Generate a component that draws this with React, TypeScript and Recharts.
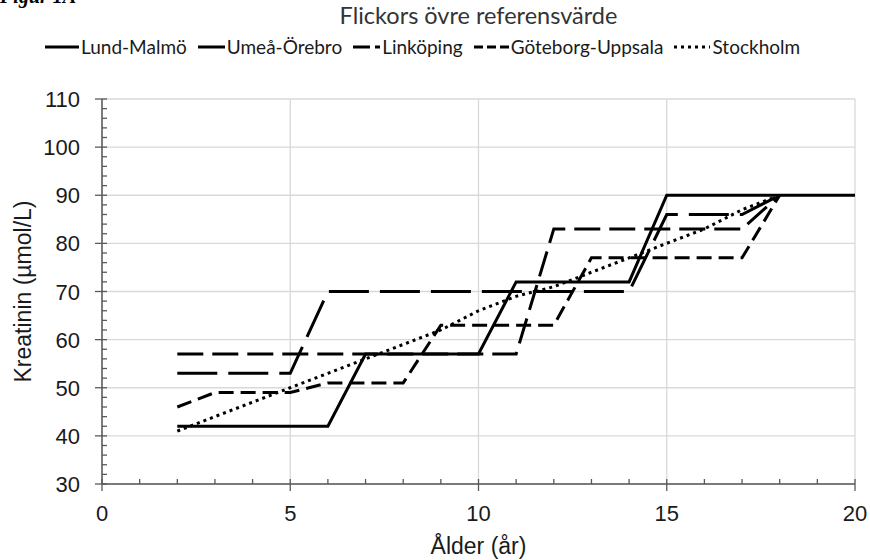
import React from "react";
import { LineChart, Line, XAxis, YAxis, CartesianGrid, Legend, Label } from "recharts";

// ålder (år) och kreatinin (µmol/L) per laboratorium
const lundMalmoAge = [2, 6, 7, 10, 11, 14, 15, 20];
const lundMalmoValue = [42, 42, 57, 57, 72, 72, 90, 90];

const umeaOrebroAge = [2, 5, 6, 14, 15, 17, 18];
const umeaOrebroValue = [53, 53, 70, 70, 86, 86, 90];

const linkopingAge = [2, 11, 12, 17, 18];
const linkopingValue = [57, 57, 83, 83, 90];

const goteborgUppsalaAge = [2, 3, 5, 6, 8, 9, 12, 13, 17, 18];
const goteborgUppsalaValue = [46, 49, 49, 51, 51, 63, 63, 77, 77, 90];

const stockholmAge = [2, 3, 4, 5, 6, 7, 8, 9, 10, 11, 12, 13, 14, 15, 16, 17, 18];
const stockholmValue = [41, 44, 47, 50, 53, 56, 59, 62, 66, 69, 71, 74, 77, 80, 83, 87, 90];

const xMajor = [0, 5, 10, 15, 20];
const xTicks = [0, 1, 2, 3, 4, 5, 6, 7, 8, 9, 10, 11, 12, 13, 14, 15, 16, 17, 18, 19, 20];
const yMajor = [30, 40, 50, 60, 70, 80, 90, 100, 110];
const yTicks = [30, 32, 34, 36, 38, 40, 42, 44, 46, 48, 50, 52, 54, 56, 58, 60, 62, 64, 66, 68, 70,
  72, 74, 76, 78, 80, 82, 84, 86, 88, 90, 92, 94, 96, 98, 100, 102, 104, 106, 108, 110];

const toPoints = (ages: number[], values: number[]) =>
  ages.map((age, i) => ({ age, value: values[i] }));

const series = [
  { name: "Lund-Malmö", data: toPoints(lundMalmoAge, lundMalmoValue), dash: undefined, legendDash: undefined, legendW: 34 },
  { name: "Umeå-Örebro", data: toPoints(umeaOrebroAge, umeaOrebroValue), dash: "40 11", legendDash: undefined, legendW: 27 },
  { name: "Linköping", data: toPoints(linkopingAge, linkopingValue), dash: "26 9", legendDash: "17 5", legendW: 27 },
  { name: "Göteborg-Uppsala", data: toPoints(goteborgUppsalaAge, goteborgUppsalaValue), dash: "15 7", legendDash: "9 4", legendW: 35 },
  { name: "Stockholm", data: toPoints(stockholmAge, stockholmValue), dash: "3 4", legendDash: "3 4", legendW: 36 },
];

const AXIS = "#595959";
const TEXT = "#1a1a1a";
const SANS = "'Liberation Sans', Arial, sans-serif";
const LEGEND_FONT = "Lato, 'Noto Sans', sans-serif";

const XTick = (props: any) => {
  const { x, y, payload } = props;
  const major = xMajor.includes(payload.value);
  return (
    <g>
      <line x1={x} x2={x} y1={y - 5} y2={major ? y + 7 : y} stroke={AXIS} strokeWidth={1.3} />
      {major && (
        <text x={x} y={y + 37} textAnchor="middle" fontSize={22} fill={TEXT} fontFamily={SANS}>
          {payload.value}
        </text>
      )}
    </g>
  );
};

const YTick = (props: any) => {
  const { x, y, payload } = props;
  const major = yMajor.includes(payload.value);
  return (
    <g>
      <line x1={major ? x - 7 : x} x2={x + 5} y1={y} y2={y} stroke={AXIS} strokeWidth={1.3} />
      {major && (
        <text x={x - 22} y={y + 8} textAnchor="end" fontSize={22} fill={TEXT} fontFamily={SANS}>
          {payload.value}
        </text>
      )}
    </g>
  );
};

const XLabel = (props: any) => {
  const { viewBox } = props;
  return (
    <text x={viewBox.x + viewBox.width / 2} y={viewBox.y + 70} textAnchor="middle" fontSize={23} fill={TEXT} fontFamily={SANS}>
      Ålder (år)
    </text>
  );
};

const YLabel = (props: any) => {
  const { viewBox } = props;
  const cx = viewBox.x - 19;
  const cy = viewBox.y + viewBox.height / 2;
  return (
    <text x={cx} y={cy} transform={`rotate(-90 ${cx} ${cy})`} textAnchor="middle" dominantBaseline="central" fontSize={23} fill={TEXT} fontFamily={SANS}>
      Kreatinin (µmol/L)
    </text>
  );
};

const LegendContent = () => (
  <div style={{ display: "flex", alignItems: "center", paddingLeft: 45, fontFamily: LEGEND_FONT, fontSize: 19, color: TEXT }}>
    {series.map((s) => (
      <div key={s.name} style={{ display: "flex", alignItems: "center", marginRight: 11 }}>
        <svg width={s.legendW} height={10} style={{ marginRight: 2 }}>
          <line x1={0} x2={s.legendW} y1={5} y2={5} stroke="#000" strokeWidth={3} strokeDasharray={s.legendDash} />
        </svg>
        <span>{s.name}</span>
      </div>
    ))}
  </div>
);

export default function App() {
  return (
    <div style={{ position: "absolute", left: 0, top: 0, width: 870, height: 560, overflow: "hidden", background: "#fff" }}>
      <div style={{ position: "absolute", left: 0, top: -14, fontFamily: "'Liberation Serif', serif", fontWeight: "bold", fontStyle: "italic", fontSize: 20, lineHeight: "20px" }}>
        Figur 1A
      </div>
      <div style={{ position: "absolute", left: 102, width: 753, top: 1, textAlign: "center", fontFamily: LEGEND_FONT, fontSize: 23.5, lineHeight: "28px", color: "#333" }}>
        Flickors övre referensvärde
      </div>
      <LineChart width={870} height={560} margin={{ top: 99, right: 15, bottom: 46, left: 42 }}>
        <CartesianGrid stroke="#d9d9d9" strokeWidth={1.3} horizontalValues={yMajor} verticalValues={xMajor} />
        <XAxis
          type="number"
          dataKey="age"
          domain={[0, 20]}
          ticks={xTicks}
          interval={0}
          tick={<XTick />}
          tickLine={false}
          tickSize={0}
          tickMargin={0}
          height={30}
          axisLine={{ stroke: AXIS, strokeWidth: 1.5 }}
          allowDuplicatedCategory={false}
        >
          <Label content={<XLabel />} />
        </XAxis>
        <YAxis
          type="number"
          domain={[30, 110]}
          ticks={yTicks}
          interval={0}
          tick={<YTick />}
          tickLine={false}
          tickSize={0}
          tickMargin={0}
          width={60}
          axisLine={{ stroke: AXIS, strokeWidth: 1.5 }}
        >
          <Label content={<YLabel />} />
        </YAxis>
        <Legend
          layout="horizontal"
          verticalAlign="middle"
          align="center"
          content={<LegendContent />}
          wrapperStyle={{ top: 35, left: 0, width: 870 }}
        />
        {series.map((s) => (
          <Line
            key={s.name}
            data={s.data}
            dataKey="value"
            name={s.name}
            type="linear"
            stroke="#000"
            strokeWidth={3}
            strokeDasharray={s.dash}
            dot={false}
            activeDot={false}
            isAnimationActive={false}
          />
        ))}
      </LineChart>
    </div>
  );
}
